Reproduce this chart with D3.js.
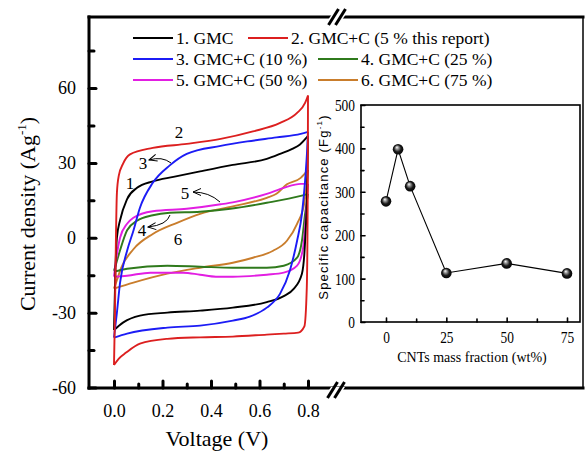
<!DOCTYPE html>
<html>
<head>
<meta charset="utf-8">
<script src="https://cdn.jsdelivr.net/npm/d3@7"></script>
<style>
body { margin: 0; background: #fff; }
svg text { font-family: "Liberation Serif", "Times New Roman", serif; fill: #000; }
</style>
</head>
<body>
<div id="chart"></div>
<script>
// CV curves, [voltage V, current density A/g], upper = forward scan, lower = reverse scan
var gmcUp = [[0,-37],[0.006,-12],[0.012,0],[0.025,7],[0.054,15.5],[0.095,20],[0.16,22.6],[0.245,24.4],[0.355,26.6],[0.49,29.2],[0.63,31.6],[0.685,33.6],[0.735,35.6],[0.767,37.4],[0.8,40.8]];
var gmcDown = [[0,-37],[0.037,-34],[0.107,-31.2],[0.22,-30],[0.355,-29.2],[0.49,-28],[0.63,-25.8],[0.7,-23.4],[0.74,-20.6],[0.775,-14.4],[0.788,-1.5],[0.797,22],[0.8,40.8]];

var c5Up = [[0,-51],[0.004,-30],[0.008,0],[0.012,18],[0.02,25],[0.037,29.6],[0.066,33.4],[0.16,36],[0.3,37.6],[0.44,39.6],[0.573,42.6],[0.685,46],[0.755,50],[0.788,54],[0.8,57]];
var c5Down = [[0,-51],[0.02,-48.4],[0.05,-46],[0.107,-42.4],[0.22,-40.5],[0.355,-39.9],[0.49,-39.6],[0.63,-38.8],[0.7,-38.4],[0.76,-38],[0.785,-35.5],[0.795,-20],[0.799,20],[0.8,57]];

var c10Up = [[0,-40],[0.012,-30],[0.025,-18],[0.054,-5.2],[0.08,2.8],[0.107,12],[0.16,22],[0.23,29],[0.3,33.6],[0.44,36.8],[0.55,38.6],[0.67,40.2],[0.77,41.6],[0.8,42.4]];
var c10Down = [[0,-40],[0.054,-38.4],[0.22,-36],[0.355,-35.2],[0.49,-33.2],[0.56,-31.6],[0.63,-28],[0.685,-22.4],[0.725,-13.2],[0.755,-1.2],[0.775,9.6],[0.788,22.8],[0.797,36],[0.8,42.4]];

var c25Up = [[0,-13.2],[0.01,-10],[0.025,-5],[0.054,3],[0.095,6.8],[0.16,9],[0.23,10],[0.355,10.4],[0.48,11.6],[0.63,14],[0.77,16.8],[0.8,17.6]];
var c25Down = [[0,-13.6],[0.054,-12.4],[0.22,-11.2],[0.355,-11.6],[0.49,-12],[0.63,-12],[0.7,-11.2],[0.755,-8],[0.775,-1.2],[0.788,9.6],[0.8,17.6]];

var c50Up = [[0,-15.6],[0.01,-8],[0.025,0],[0.054,5.6],[0.08,8],[0.16,10.6],[0.3,11.6],[0.44,13.4],[0.5,14.4],[0.63,17.6],[0.7,20],[0.77,21.6],[0.8,21.6]];
var c50Down = [[0,-15.6],[0.054,-15.2],[0.15,-14],[0.285,-14],[0.355,-14.8],[0.42,-15.6],[0.49,-15.6],[0.63,-14.8],[0.7,-14],[0.755,-11.2],[0.78,-4],[0.79,6.8],[0.8,21.6]];

var c75Up = [[0,-20.4],[0.012,-17],[0.03,-12],[0.08,-4.6],[0.16,1.5],[0.26,6],[0.355,9.6],[0.49,12.6],[0.63,16],[0.67,17.6],[0.713,21.4],[0.77,24],[0.8,27.2]];
var c75Down = [[0,-20.4],[0.08,-18],[0.22,-14.4],[0.355,-12],[0.49,-10],[0.573,-8],[0.656,-5.2],[0.713,-1.2],[0.755,5.6],[0.785,14],[0.8,27.2]];

var seriesNames = ["1. GMC", "2. GMC+C (5 % this report)", "3. GMC+C (10 %)", "4. GMC+C (25 %)", "5. GMC+C (50 %)", "6. GMC+C (75 %)"];
var seriesColors = ["#000000", "#dc1f1f", "#1c1cf5", "#2f7a1c", "#e21ee2", "#c97d2c"];

// inset: specific capacitance vs CNTs mass fraction
var cntFraction = [0, 5, 10, 25, 50, 75];
var capacitance = [278, 398, 313, 113, 135, 112];

var xMajor = [0, 0.2, 0.4, 0.6, 0.8];
var xMinor = [0.1, 0.3, 0.5, 0.7];
var yMajor = [-60, -30, 0, 30, 60];
var yMinor = [-45, -15, 15, 45, 75];
var insetXTicks = [0, 25, 50, 75];
var insetXMinor = [12.5, 37.5, 62.5];
var insetYTicks = [0, 100, 200, 300, 400, 500];
var insetYMinor = [50, 150, 250, 350, 450];

var svg = d3.select("#chart").append("svg").attr("width", 585).attr("height", 451);

var pLeft = 89, pTop = 17, pBottom = 388, pRight = 583;

var x = d3.scaleLinear().domain([0, 0.8]).range([114, 308]);
var y = d3.scaleLinear().domain([-60, 60]).range([387.5, 88]);

var defs = svg.append("defs");
defs.append("clipPath").attr("id", "plotclip")
  .append("rect").attr("x", pLeft + 1).attr("y", pTop + 1).attr("width", pRight - pLeft - 1).attr("height", pBottom - pTop - 2);

var grad = defs.append("radialGradient").attr("id", "ball").attr("cx", "50%").attr("cy", "50%").attr("r", "55%").attr("fx", "38%").attr("fy", "30%");
grad.append("stop").attr("offset", "0%").attr("stop-color", "#ffffff");
grad.append("stop").attr("offset", "25%").attr("stop-color", "#9a9a9a");
grad.append("stop").attr("offset", "60%").attr("stop-color", "#1a1a1a");
grad.append("stop").attr("offset", "100%").attr("stop-color", "#000000");

defs.append("marker").attr("id", "arrow")
  .attr("viewBox", "-9 -5 10 10").attr("refX", 0).attr("refY", 0)
  .attr("markerWidth", 10).attr("markerHeight", 10)
  .attr("markerUnits", "userSpaceOnUse").attr("orient", "auto")
  .append("path").attr("d", "M-8,-3.5L0,0L-8,3.5")
  .attr("fill", "none").attr("stroke", "#000").attr("stroke-width", 1);

// curves
var line = d3.line()
  .x(function (d) { return x(d[0]); })
  .y(function (d) { return y(d[1]); })
  .curve(d3.curveMonotoneX);

var curves = [[gmcUp, gmcDown], [c5Up, c5Down], [c10Up, c10Down], [c25Up, c25Down], [c50Up, c50Down], [c75Up, c75Down]];
var plot = svg.append("g").attr("clip-path", "url(#plotclip)");
var drawOrder = [5, 3, 4, 0, 2, 1];
drawOrder.forEach(function (i) {
  curves[i].forEach(function (branch) {
    plot.append("path")
      .attr("d", line(branch))
      .attr("fill", "none")
      .attr("stroke", seriesColors[i])
      .attr("stroke-width", 1.9)
      .attr("stroke-linejoin", "round");
  });
});

// frame
var frame = svg.append("g").attr("stroke", "#000").attr("stroke-linecap", "square");
frame.append("line").attr("x1", pLeft).attr("y1", pTop).attr("x2", pRight).attr("y2", pTop).attr("stroke-width", 3);
frame.append("line").attr("x1", pLeft).attr("y1", pBottom).attr("x2", pRight).attr("y2", pBottom).attr("stroke-width", 3);
frame.append("line").attr("x1", pLeft).attr("y1", pTop).attr("x2", pLeft).attr("y2", pBottom).attr("stroke-width", 3);
frame.append("line").attr("x1", pRight).attr("y1", pTop).attr("x2", pRight).attr("y2", pBottom).attr("stroke-width", 1.5);

// axis break marks
function breakMark(cx, cy) {
  svg.append("polygon")
    .attr("points", [[cx - 9, cy + 3], [cx - 5, cy - 3], [cx + 9, cy - 3], [cx + 5, cy + 3]].join(" "))
    .attr("fill", "#fff");
  [-3.5, 3.5].forEach(function (dx) {
    svg.append("line")
      .attr("x1", cx + dx - 5).attr("y1", cy + 8)
      .attr("x2", cx + dx + 5).attr("y2", cy - 8)
      .attr("stroke", "#000").attr("stroke-width", 3);
  });
}
breakMark(337, 17);
breakMark(336, 390);

// main axes
function styleAxis(g, width) {
  g.select(".domain").remove();
  g.attr("font-family", null);
  g.selectAll(".tick line").attr("stroke", "#000").attr("stroke-width", width).attr("stroke-linecap", "round");
}
var plainNum = function (d) { return String(d); };

var yAxis = svg.append("g").attr("transform", "translate(" + pLeft + ",0)")
  .call(d3.axisLeft(y).tickValues(yMajor).tickSize(-7).tickPadding(13).tickFormat(plainNum));
styleAxis(yAxis, 3);
yAxis.selectAll("text").attr("font-size", 18);
var yMinorAxis = svg.append("g").attr("transform", "translate(" + pLeft + ",0)")
  .call(d3.axisLeft(y).tickValues(yMinor).tickSize(-5).tickFormat(""));
styleAxis(yMinorAxis, 3);

var xAxis = svg.append("g").attr("transform", "translate(0," + pBottom + ")")
  .call(d3.axisBottom(x).tickValues(xMajor).tickSize(-7).tickPadding(16).tickFormat(d3.format(".1f")));
styleAxis(xAxis, 3);
xAxis.selectAll("text").attr("font-size", 18);
var xMinorAxis = svg.append("g").attr("transform", "translate(0," + pBottom + ")")
  .call(d3.axisBottom(x).tickValues(xMinor).tickSize(-4).tickFormat(""));
styleAxis(xMinorAxis, 3);

svg.append("text").attr("x", 217).attr("y", 446).attr("text-anchor", "middle")
  .attr("font-size", 22).text("Voltage (V)");

var yTitle = svg.append("text").attr("transform", "translate(35,214) rotate(-90)")
  .attr("text-anchor", "middle").attr("font-size", 22);
yTitle.append("tspan").text("Current density (Ag");
yTitle.append("tspan").attr("font-size", 13).attr("dy", -9).text("-1");
yTitle.append("tspan").attr("dy", 9).text(")");

// legend
var legendPos = [[133, 38], [248, 38], [133, 59], [318, 59], [133, 80], [318, 80]];
var legend = svg.append("g").selectAll("g").data(seriesNames).enter().append("g")
  .attr("transform", function (d, i) { return "translate(" + legendPos[i][0] + "," + legendPos[i][1] + ")"; });
legend.append("line").attr("x1", 0).attr("x2", 40).attr("y1", 0).attr("y2", 0)
  .attr("stroke", function (d, i) { return seriesColors[i]; }).attr("stroke-width", 2);
legend.append("text").attr("x", 43).attr("y", 6).attr("font-size", 17.5).text(function (d) { return d; });

// curve numbers and arrows
var numLabels = [["1", 130, 189], ["2", 179, 138], ["3", 143, 169], ["4", 142, 236], ["5", 185, 199], ["6", 178, 245]];
svg.append("g").selectAll("text").data(numLabels).enter().append("text")
  .attr("x", function (d) { return d[1]; }).attr("y", function (d) { return d[2]; })
  .attr("text-anchor", "middle").attr("font-size", 17).text(function (d) { return d[0]; });

var arrows = ["M171,163Q162,156 149,160", "M220,202Q209,192 193,192", "M170,215Q167,225 148,227"];
svg.append("g").selectAll("path").data(arrows).enter().append("path")
  .attr("d", function (d) { return d; })
  .attr("fill", "none").attr("stroke", "#000").attr("stroke-width", 1)
  .attr("marker-end", "url(#arrow)");

// inset
var il = 361, it = 105, ir = 580, ib = 322;
var xi = d3.scaleLinear().domain([0, 75]).range([386, 567]);
var yi = d3.scaleLinear().domain([0, 500]).range([ib, it]);

svg.append("rect").attr("x", il).attr("y", it).attr("width", ir - il).attr("height", ib - it)
  .attr("fill", "#fff").attr("stroke", "#000").attr("stroke-width", 1.6);

var iyAxis = svg.append("g").attr("transform", "translate(" + il + ",0)")
  .call(d3.axisLeft(yi).tickValues(insetYTicks).tickSize(-4).tickPadding(6).tickFormat(plainNum));
styleAxis(iyAxis, 1.6);
var iyMinor = svg.append("g").attr("transform", "translate(" + il + ",0)")
  .call(d3.axisLeft(yi).tickValues(insetYMinor).tickSize(-3).tickFormat(""));
styleAxis(iyMinor, 1.6);

var ixAxis = svg.append("g").attr("transform", "translate(0," + ib + ")")
  .call(d3.axisBottom(xi).tickValues(insetXTicks).tickSize(-4).tickPadding(9).tickFormat(plainNum));
styleAxis(ixAxis, 1.6);
var ixMinor = svg.append("g").attr("transform", "translate(0," + ib + ")")
  .call(d3.axisBottom(xi).tickValues(insetXMinor).tickSize(-3).tickFormat(""));
styleAxis(ixMinor, 1.6);

[iyAxis, ixAxis].forEach(function (g) {
  g.selectAll("text")
    .attr("font-size", 17)
    .attr("lengthAdjust", "spacingAndGlyphs")
    .attr("textLength", function (d) { return String(d).length * 6.7; });
});

svg.append("text").attr("x", 472).attr("y", 362).attr("text-anchor", "middle")
  .attr("font-size", 14).text("CNTs mass fraction (wt%)");

var iyTitle = svg.append("text").attr("transform", "translate(328,207) rotate(-90)")
  .attr("text-anchor", "middle").attr("font-size", 13)
  .style("font-family", "'Liberation Sans', Arial, sans-serif").style("letter-spacing", "1.2px");
iyTitle.append("tspan").text("Specific capacitance (Fg");
iyTitle.append("tspan").attr("font-size", 8).attr("dy", -6).text("-1");
iyTitle.append("tspan").attr("dy", 6).text(")");

var capData = cntFraction.map(function (f, i) { return [f, capacitance[i]]; });
svg.append("path")
  .attr("d", d3.line().x(function (d) { return xi(d[0]); }).y(function (d) { return yi(d[1]); })(capData))
  .attr("fill", "none").attr("stroke", "#000").attr("stroke-width", 1.1);
svg.append("g").selectAll("circle").data(capData).enter().append("circle")
  .attr("cx", function (d) { return xi(d[0]); })
  .attr("cy", function (d) { return yi(d[1]); })
  .attr("r", 5.3)
  .attr("fill", "url(#ball)");
</script>
</body>
</html>
